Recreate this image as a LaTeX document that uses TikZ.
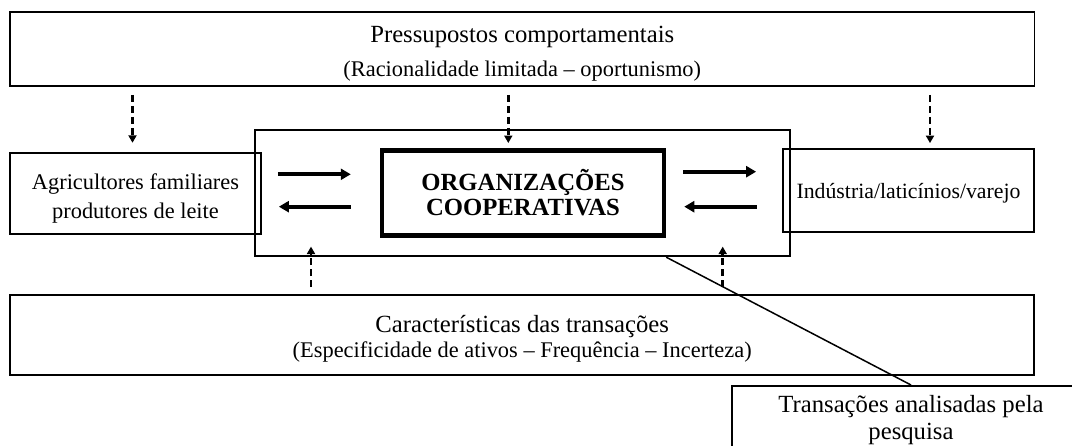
\documentclass[tikz,border=0pt]{standalone}
\usepackage{fontspec}
\setmainfont{Liberation Serif}
\usetikzlibrary{positioning,arrows.meta}

\newcommand{\headfont}{\fontsize{24.7}{29}\selectfont}
\newcommand{\subfont}{\fontsize{22.4}{29}\selectfont}
\newcommand{\orgfont}{\fontsize{24.7}{27}\selectfont\bfseries}
\newcommand{\indfont}{\fontsize{21.8}{29}\selectfont}

\begin{document}
\begin{tikzpicture}[x=1pt,y=1pt,
	box/.style={draw, line width=1.8pt, inner sep=0pt, align=center},
	flow/.style={line width=4pt, -{Triangle[length=10pt,width=11pt]}},
	dasharrow/.style={line width=2.6pt, dash pattern=on 7pt off 4pt, -{Triangle[length=7.5pt,width=8pt]}}]
	\useasboundingbox (0,0) rectangle (1072,-446);
	\clip (0,0) rectangle (1072,-446);
	% boxes
	\node (top) [box, minimum width=1024.5pt, minimum height=73.7pt, font=\headfont, text height=59pt] at (522.25,-49.15)
		{Pressupostos comportamentais\\[5pt]{\subfont (Racionalidade limitada – oportunismo)}};
	\node (mid) [draw, line width=2.4pt, minimum width=535pt, minimum height=126pt] at (522.5,-193) {};
	\node (agri) [box, minimum width=251pt, minimum height=81.3pt, font=\subfont, text height=56pt] at (135.5,-193.35)
		{Agricultores familiares\\produtores de leite};
	\node (coop) [box, line width=4.5pt, minimum width=282pt, minimum height=85pt, font=\orgfont] at (523,-192.8)
		{ORGANIZAÇÕES\\[-2pt]COOPERATIVAS};
	\node (ind) [box, minimum width=251pt, minimum height=83pt, font=\indfont, text height=21pt, text depth=4.7pt] at (908.5,-190.5)
		{Indústria/laticínios/varejo};
	\node (trans) [box, minimum width=1024.3pt, minimum height=80pt, font=\headfont, text height=50pt] at (522.2,-335)
		{Características das transações\\[-4pt]{\subfont (Especificidade de ativos – Frequência – Incerteza)}};
	\node (pesq) [box, anchor=north, minimum width=358pt, minimum height=68pt, font=\headfont] at (911,-385)
		{Transações analisadas pela\\[-2pt]pesquisa};
	% influences from above
	\draw [dasharrow, shorten <=8pt, shorten >=9pt] ([xshift=-3pt]agri.north |- top.south) -- ([xshift=-3pt]agri.north);
	\draw [dasharrow, shorten <=8pt, shorten >=5pt] ([xshift=-14.7pt]coop.north |- top.south) -- ([xshift=-14.7pt]coop.north);
	\draw [dasharrow, shorten <=8pt, shorten >=5pt] ([xshift=21.5pt]ind.north |- top.south) -- ([xshift=21.5pt]ind.north);
	% influences from below
	\draw [dasharrow, shorten <=7pt, shorten >=-10.6pt] ([xshift=-211.5pt]mid.south |- trans.north) -- ([xshift=-211.5pt]mid.south);
	\draw [dasharrow, shorten <=7pt, shorten >=-10.6pt] ([xshift=200.2pt]mid.south |- trans.north) -- ([xshift=200.2pt]mid.south);
	% exchanges
	\draw [flow, shorten <=16pt, shorten >=29pt] ([yshift=18.5pt]coop.west -| agri.east) -- ([yshift=18.5pt]coop.west);
	\draw [flow, shorten <=29pt, shorten >=17pt] ([yshift=-13.9pt]coop.west) -- ([yshift=-13.9pt]coop.west -| agri.east);
	\draw [flow, shorten <=17pt, shorten >=26pt] ([yshift=21.1pt]coop.east) -- ([yshift=21.1pt]coop.east -| ind.west);
	\draw [flow, shorten <=25.5pt, shorten >=18pt] ([yshift=-13.9pt]coop.east -| ind.west) -- ([yshift=-13.9pt]coop.east);
	% pointer
	\draw [line width=1.5pt] (coop.south east |- mid.south) -- (pesq.north);
\end{tikzpicture}
\end{document}
